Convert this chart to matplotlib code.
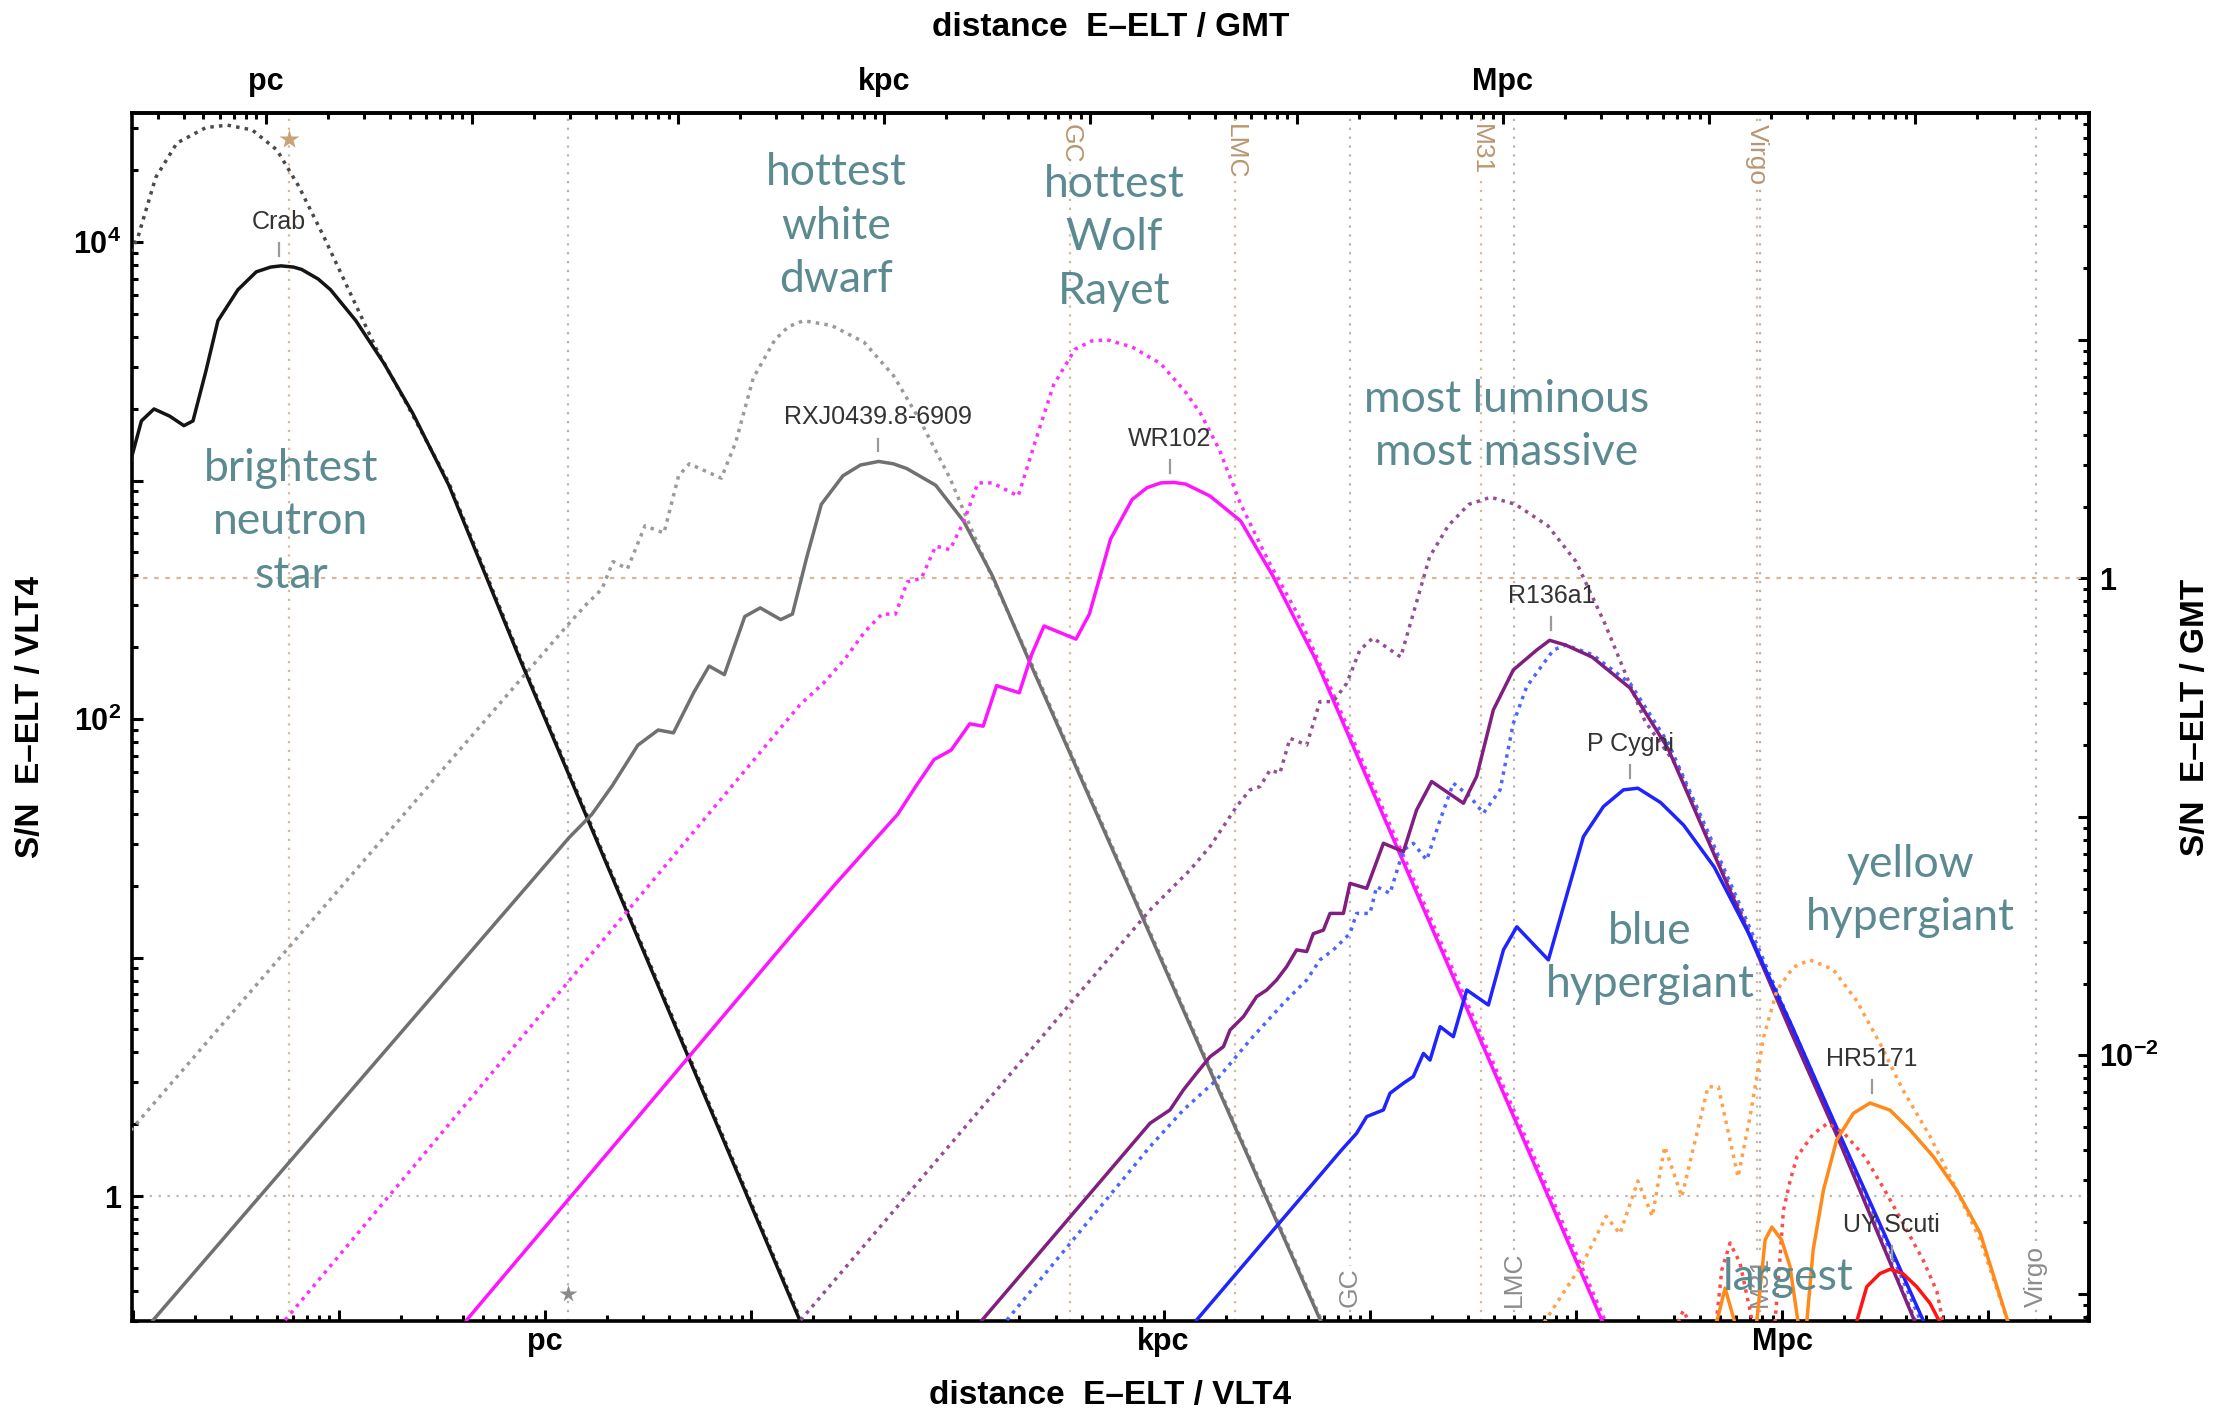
import numpy as np
import matplotlib.pyplot as plt
from matplotlib.ticker import LogLocator, FuncFormatter, NullFormatter

plt.rcParams['font.family'] = ['Liberation Sans', 'DejaVu Sans']
plt.rcParams['mathtext.fontset'] = 'custom'
plt.rcParams['mathtext.rm'] = 'Liberation Sans'
plt.rcParams['mathtext.bf'] = 'Liberation Sans:bold'

# top axis distance = bottom axis distance * shift ; right S/N = left S/N / shift
GMT_DIST_SHIFT = 10 ** 1.355
GMT_SN_SHIFT = 10 ** 2.59

# curves as (log10 distance [pc], log10 S/N), both on the E-ELT/VLT4 scales
# nan rows split a curve into separate pieces
crab_vlt = [(-2.01, 3.08), (-1.957, 3.25), (-1.896, 3.30), (-1.82, 3.27), (-1.751, 3.23),
            (-1.707, 3.25), (-1.644, 3.46), (-1.586, 3.67), (-1.489, 3.80), (-1.40, 3.875),
            (-1.33, 3.895), (-1.28, 3.90), (-1.22, 3.895), (-1.18, 3.885), (-1.10, 3.845),
            (-1.04, 3.80), (-0.917, 3.67), (-0.78, 3.49), (-0.64, 3.28), (-0.466, 2.98),
            (-0.296, 2.62), (-0.121, 2.25), (1.25, -0.55)]
crab_gmt = [(-2.01, 3.96), (-1.974, 4.02), (-1.888, 4.27), (-1.785, 4.415), (-1.644, 4.48),
            (-1.54, 4.49), (-1.42, 4.47), (-1.30, 4.386), (-1.195, 4.235), (-1.074, 4.025),
            (-0.952, 3.80), (-0.815, 3.547), (-0.676, 3.33), (-0.466, 2.99), (-0.121, 2.26),
            (1.25, -0.54)]

rxj_vlt = [(-1.90, -0.52), (0.116, 1.502), (0.227, 1.60), (0.326, 1.72), (0.450, 1.89),
           (0.549, 1.954), (0.623, 1.942), (0.722, 2.112), (0.796, 2.222), (0.870, 2.186),
           (0.969, 2.430), (1.044, 2.466), (1.143, 2.417), (1.20, 2.44), (1.27, 2.68),
           (1.34, 2.90), (1.445, 3.02), (1.53, 3.065), (1.618, 3.08), (1.69, 3.07),
           (1.755, 3.05), (1.895, 2.98), (2.03, 2.83), (2.17, 2.60), (2.345, 2.25),
           (3.77, -0.54)]
rxj_gmt = [(-2.01, 0.275), (0.116, 2.40), (0.20, 2.48), (0.276, 2.545), (0.33, 2.66),
           (0.40, 2.63), (0.485, 2.81), (0.577, 2.78), (0.648, 3.02), (0.70, 3.07),
           (0.855, 3.01), (0.925, 3.16), (1.01, 3.43), (1.115, 3.59), (1.18, 3.645),
           (1.254, 3.67), (1.39, 3.65), (1.547, 3.58), (1.69, 3.44), (1.82, 3.25),
           (1.964, 3.01), (2.066, 2.80), (2.17, 2.59), (2.345, 2.26), (3.77, -0.53)]

wr102_vlt = [(-0.38, -0.52), (1.237, 1.136), (1.40, 1.30), (1.56, 1.455), (1.71, 1.60),
             (1.80, 1.72), (1.887, 1.83), (1.97, 1.87), (2.06, 1.98), (2.125, 1.97),
             (2.19, 2.14), (2.30, 2.11), (2.36, 2.27), (2.42, 2.39), (2.575, 2.335),
             (2.64, 2.44), (2.743, 2.755), (2.847, 2.92), (2.92, 2.97), (2.986, 2.99),
             (3.05, 2.992), (3.107, 2.985), (3.225, 2.935), (3.374, 2.83), (3.53, 2.60),
             (3.737, 2.25), (5.13, -0.53)]
wr102_gmt = [(-1.26, -0.52), (1.237, 2.06), (1.35, 2.15), (1.453, 2.25), (1.55, 2.365),
             (1.634, 2.44), (1.70, 2.44), (1.757, 2.575), (1.825, 2.59), (1.895, 2.725),
             (1.964, 2.71), (2.032, 2.83), (2.10, 2.99), (2.17, 2.99), (2.295, 2.935),
             (2.38, 3.17), (2.466, 3.40), (2.57, 3.55), (2.65, 3.585), (2.726, 3.59),
             (2.847, 3.56), (2.986, 3.49), (3.107, 3.37), (3.18, 3.28), (3.27, 3.13),
             (3.374, 2.90), (3.51, 2.66), (3.65, 2.44), (3.80, 2.15), (5.14, -0.52)]

r136a1_vlt = [(2.12, -0.52), (2.934, 0.305), (3.031, 0.361), (3.096, 0.445), (3.160, 0.515),
              (3.225, 0.584), (3.290, 0.626), (3.322, 0.696), (3.387, 0.752), (3.451, 0.836),
              (3.50, 0.864), (3.548, 0.906), (3.597, 0.962), (3.645, 1.032), (3.694, 1.025),
              (3.726, 1.10), (3.775, 1.115), (3.807, 1.185), (3.872, 1.185), (3.904, 1.311),
              (3.985, 1.29), (4.066, 1.479), (4.163, 1.444), (4.227, 1.619), (4.30, 1.738),
              (4.454, 1.647), (4.518, 1.759), (4.599, 2.038), (4.696, 2.206), (4.809, 2.289),
              (4.872, 2.33), (4.95, 2.31), (5.078, 2.26), (5.262, 2.13), (5.447, 1.875),
              (5.633, 1.505), (5.82, 1.136), (6.043, 0.687), (6.265, 0.254), (6.64, -0.52)]
r136a1_gmt = [(1.24, -0.52), (2.934, 1.199), (3.031, 1.283), (3.128, 1.367), (3.225, 1.465),
              (3.354, 1.633), (3.419, 1.703), (3.468, 1.717), (3.516, 1.786), (3.564, 1.773),
              (3.613, 1.919), (3.694, 1.891), (3.758, 2.073), (3.823, 2.073), (3.888, 2.150),
              (3.952, 2.289), (4.015, 2.34), (4.15, 2.26), (4.22, 2.47), (4.29, 2.68),
              (4.38, 2.81), (4.48, 2.90), (4.586, 2.93), (4.707, 2.90), (4.864, 2.81),
              (5.0, 2.66), (5.14, 2.40), (5.335, 1.99), (5.50, 1.79), (5.633, 1.52),
              (5.82, 1.15), (6.043, 0.70), (6.265, 0.26), (6.645, -0.52)]

pcyg_vlt = [(3.16, -0.52), (3.863, 0.193), (3.936, 0.263), (3.985, 0.333), (4.066, 0.361),
            (4.098, 0.431), (4.163, 0.473), (4.211, 0.501), (4.260, 0.598), (4.292, 0.570),
            (4.341, 0.710), (4.405, 0.668), (4.470, 0.864), (4.575, 0.801), (4.648, 1.032),
            (4.713, 1.129), (4.866, 0.990), (4.939, 1.213), (5.036, 1.507), (5.133, 1.633),
            (5.230, 1.703), (5.30, 1.71), (5.41, 1.65), (5.522, 1.555), (5.67, 1.38),
            (5.838, 1.10), (6.043, 0.72), (6.265, 0.285), (6.683, -0.52)]
pcyg_gmt = [(2.24, -0.52), (2.934, 0.207), (3.096, 0.361), (3.257, 0.487), (3.419, 0.654),
            (3.581, 0.808), (3.629, 0.850), (3.694, 0.906), (3.758, 0.990), (3.823, 1.032),
            (3.904, 1.101), (3.936, 1.185), (4.001, 1.185), (4.033, 1.297), (4.098, 1.269),
            (4.163, 1.451), (4.211, 1.479), (4.276, 1.409), (4.341, 1.577), (4.405, 1.731),
            (4.486, 1.675), (4.551, 1.605), (4.632, 1.703), (4.696, 1.982), (4.761, 2.136),
            (4.890, 2.289), (4.95, 2.31), (5.08, 2.27), (5.262, 2.15), (5.447, 1.90),
            (5.633, 1.54), (5.82, 1.17), (6.043, 0.72), (6.265, 0.28), (6.67, -0.52)]

hr5171_vlt = [(5.682, -0.53), (5.723, -0.386), (5.77, -0.53), (np.nan, np.nan),
              (5.876, -0.53), (5.917, -0.184), (5.95, -0.13), (5.997, -0.184), (6.038, -0.296),
              (6.077, -0.53), (np.nan, np.nan),
              (6.119, -0.53), (6.15, -0.226), (6.20, 0.025), (6.264, 0.235), (6.345, 0.347),
              (6.426, 0.39), (6.523, 0.36), (6.62, 0.277), (6.733, 0.165), (6.846, 0.025),
              (6.96, -0.155), (7.096, -0.53)]
hr5171_gmt = [(4.845, -0.53), (5.034, -0.28), (5.146, -0.085), (5.213, -0.158), (5.30, 0.063),
              (5.37, -0.085), (5.43, 0.207), (5.513, -0.003), (5.64, 0.458), (5.69, 0.458),
              (5.786, 0.08), (5.844, 0.333), (5.91, 0.668), (5.975, 0.864), (6.055, 0.96),
              (6.135, 0.99), (6.247, 0.95), (6.36, 0.82), (6.474, 0.64), (6.585, 0.445),
              (6.717, 0.25), (6.83, 0.053), (6.96, -0.184), (7.096, -0.53)]

uysct_vlt = [(6.36, -0.53), (6.41, -0.38), (6.474, -0.325), (6.523, -0.307), (6.585, -0.325),
             (6.652, -0.38), (6.717, -0.45), (6.765, -0.53)]
uysct_gmt = [(5.495, -0.53), (5.52, -0.48), (5.55, -0.53), (np.nan, np.nan),
             (5.68, -0.53), (5.707, -0.31), (5.747, -0.197), (5.795, -0.28), (5.844, -0.48),
             (5.855, -0.53), (np.nan, np.nan),
             (5.965, -0.53), (5.99, -0.25), (6.006, -0.06), (6.04, 0.07), (6.072, 0.165),
             (6.15, 0.26), (6.22, 0.305), (6.30, 0.263), (6.40, 0.165), (6.497, 0.025),
             (6.585, -0.113), (6.683, -0.268), (6.75, -0.40), (6.78, -0.53)]

# object names marked at the peak of each E-ELT/VLT4 curve (log10 d, log10 S/N)
star_names = ['Crab', 'RXJ0439.8-6909', 'WR102', 'R136a1', 'P Cygni', 'HR5171', 'UY Scuti']
star_peak = [(-1.29, 3.90), (1.615, 3.08), (3.03, 2.99), (4.88, 2.33), (5.262, 1.71),
             (6.434, 0.39), (6.53, -0.307)]

# reference distances [pc]
ref_names = ['GC', 'LMC', 'M31', 'Virgo']
ref_dist = [8.0e3, 5.0e4, 7.8e5, 1.7e7]
nearest_star = 1.3

fig = plt.figure(figsize=(22.25, 14.13), dpi=100)
ax = fig.add_axes([0.0593, 0.0651, 0.8796, 0.8546])
ax.set_xscale('log')
ax.set_yscale('log')
ax.set_xlim(10 ** -2.003, 10 ** 7.488)
ax.set_ylim(10 ** -0.524, 10 ** 4.539)

GREY_GRID = '#b5b5b5'
TAN_GRID = '#d4b996'

# reference lines
ax.axhline(1.0, color=GREY_GRID, ls=(0, (1, 3)), lw=1.6, zorder=1)
ax.axhline(GMT_SN_SHIFT, color=TAN_GRID, ls=(0, (2, 3)), lw=1.6, zorder=1)
ax.axvline(nearest_star, color=GREY_GRID, ls=(0, (1, 3)), lw=1.6, zorder=1)
ax.axvline(nearest_star / GMT_DIST_SHIFT, color=TAN_GRID, ls=(0, (1, 3)), lw=1.6, zorder=1)
xt = ax.get_xaxis_transform()
ax.plot([nearest_star], [0.022], marker='*', ms=13, color='#8a8a8a', mec='none',
        transform=xt, zorder=2)
ax.plot([nearest_star / GMT_DIST_SHIFT], [0.979], marker='*', ms=15, color='#c9a27a',
        mec='none', transform=xt, zorder=2)

for name, d in zip(ref_names, ref_dist):
    ax.axvline(d, color=GREY_GRID, ls=(0, (1, 3)), lw=1.6, zorder=1)
    ax.text(d, 0.012, name, transform=xt, rotation=90, ha='center', va='bottom',
            fontsize=19, color='#8c8c8c', zorder=1.5,
            bbox=dict(facecolor='white', edgecolor='none', pad=1))
    ax.axvline(d / GMT_DIST_SHIFT, color=TAN_GRID, ls=(0, (1, 3)), lw=1.6, zorder=1)
    ax.text(d / GMT_DIST_SHIFT, 0.991, name, transform=xt, rotation=270, ha='center',
            va='top', fontsize=19, color='#b89670', zorder=1.5,
            bbox=dict(facecolor='white', edgecolor='none', pad=1))


def draw(pts, color, dotted=False):
    pts = np.asarray(pts, dtype=float)
    style = (0, (1.0, 1.5)) if dotted else '-'
    ax.plot(10 ** pts[:, 0], 10 ** pts[:, 1], color=color, lw=2.5, ls=style,
            solid_joinstyle='round', zorder=3)


draw(crab_gmt, '#4a4a4a', dotted=True)
draw(crab_vlt, '#141414')
draw(rxj_gmt, '#9a9a9a', dotted=True)
draw(rxj_vlt, '#707070')
draw(wr102_gmt, '#ff2eff', dotted=True)
draw(wr102_vlt, '#ff14ff')
draw(r136a1_gmt, '#944f94', dotted=True)
draw(pcyg_gmt, '#4a66ff', dotted=True)
draw(r136a1_vlt, '#801f80')
draw(pcyg_vlt, '#1f24ff')
draw(hr5171_gmt, '#ffa04a', dotted=True)
draw(uysct_gmt, '#ff4a4a', dotted=True)
draw(hr5171_vlt, '#ff8a1a')
draw(uysct_vlt, '#ff1414')

# object names with a small marker tick above each peak
for name, (ld, ls) in zip(star_names, star_peak):
    d, sn = 10 ** ld, 10 ** ls
    ax.plot([d, d], [sn * 10 ** 0.042, sn * 10 ** 0.096], color='#9a9a9a', lw=1.6, zorder=4)
    ax.text(d, sn * 10 ** 0.185, name, ha='center', va='center', fontsize=18,
            color='#333333', zorder=4)

# frame and ticks
for sp in ax.spines.values():
    sp.set_linewidth(2.6)
ax.xaxis.set_major_locator(LogLocator(base=10, numticks=100))
ax.xaxis.set_minor_locator(LogLocator(base=10, subs=np.arange(2, 10), numticks=100))
ax.yaxis.set_major_locator(LogLocator(base=10, numticks=100))
ax.yaxis.set_minor_locator(LogLocator(base=10, subs=np.arange(2, 10), numticks=100))
ax.xaxis.set_minor_formatter(NullFormatter())
ax.yaxis.set_minor_formatter(NullFormatter())

dist_labels = {0: 'pc', 3: 'kpc', 6: 'Mpc'}
vlt_sn_labels = {0: '1', 2: r'$\mathbf{10^{2}}$', 4: r'$\mathbf{10^{4}}$'}
gmt_sn_labels = {-2: r'$\mathbf{10^{-2}}$', 0: '1'}


def make_fmt(table):
    def fmt(v, pos):
        if v <= 0:
            return ''
        e = int(round(np.log10(v)))
        if abs(np.log10(v) - e) > 0.01:
            return ''
        return table.get(e, '')
    return FuncFormatter(fmt)


ax.xaxis.set_major_formatter(make_fmt(dist_labels))
ax.yaxis.set_major_formatter(make_fmt(vlt_sn_labels))
ax.tick_params(which='both', direction='in', top=False, right=False, width=2.2)
ax.tick_params(which='major', length=8)
ax.tick_params(which='minor', length=4.5)
ax.tick_params(axis='x', pad=4, labelsize=22)
ax.tick_params(axis='y', pad=8, labelsize=22)
for lab in ax.get_xticklabels() + ax.get_yticklabels():
    lab.set_fontweight('bold')

sec_x = ax.secondary_xaxis('top', functions=(lambda d: d * GMT_DIST_SHIFT,
                                             lambda d: d / GMT_DIST_SHIFT))
sec_y = ax.secondary_yaxis('right', functions=(lambda s: s / GMT_SN_SHIFT,
                                               lambda s: s * GMT_SN_SHIFT))
for sec, axis in ((sec_x, sec_x.xaxis), (sec_y, sec_y.yaxis)):
    axis.set_major_locator(LogLocator(base=10, numticks=100))
    axis.set_minor_locator(LogLocator(base=10, subs=np.arange(2, 10), numticks=100))
    axis.set_minor_formatter(NullFormatter())
    for sp in sec.spines.values():
        sp.set_linewidth(2.6)
sec_x.xaxis.set_major_formatter(make_fmt(dist_labels))
sec_y.yaxis.set_major_formatter(make_fmt(gmt_sn_labels))
sec_x.tick_params(which='both', direction='in', width=2.2, labelsize=22, pad=12)
sec_y.tick_params(which='both', direction='in', width=2.2, labelsize=22, pad=7)
for sec in (sec_x, sec_y):
    sec.tick_params(which='major', length=8)
    sec.tick_params(which='minor', length=4.5)
for lab in sec_x.get_xticklabels() + sec_y.get_yticklabels():
    lab.set_fontweight('bold')

# axis titles
ax.set_xlabel('distance  E\u2013ELT / VLT4', fontsize=24, fontweight='bold')
ax.xaxis.set_label_coords(0.5, -0.0613)
ax.xaxis.label.set_va('center')
ax.set_ylabel('S/N  E\u2013ELT / VLT4', fontsize=24, fontweight='bold')
ax.yaxis.set_label_coords(-0.0516, 0.5)
ax.yaxis.label.set_va('center')
sec_x.set_xlabel('distance  E\u2013ELT / GMT', fontsize=24, fontweight='bold')
sec_x.xaxis.set_label_coords(0.5, 1.0708, transform=ax.transAxes)
sec_x.xaxis.label.set_va('center')
sec_y.set_ylabel('S/N  E\u2013ELT / GMT', fontsize=24, fontweight='bold', rotation=90)
sec_y.yaxis.set_label_coords(1.0542, 0.5, transform=ax.transAxes)
sec_y.yaxis.label.set_va('center')

# category annotations
TEAL = '#5b8a90'
notes = [('brightest\nneutron\nstar', 0.0812, 0.6617),
         ('hottest\nwhite\ndwarf', 0.3597, 0.9068),
         ('hottest\nWolf\nRayet', 0.5018, 0.8969),
         ('most luminous\nmost massive', 0.7026, 0.7412),
         ('blue\nhypergiant', 0.7757, 0.3006),
         ('yellow\nhypergiant', 0.9085, 0.3561),
         ('largest', 0.8462, 0.0364)]
for txt, fx, fy in notes:
    ax.text(fx, fy, txt, transform=ax.transAxes, ha='center', va='center',
            multialignment='center', fontsize=32, color=TEAL, family='Lato',
            linespacing=1.38, zorder=6)

fig.savefig('out.png', dpi=100)
